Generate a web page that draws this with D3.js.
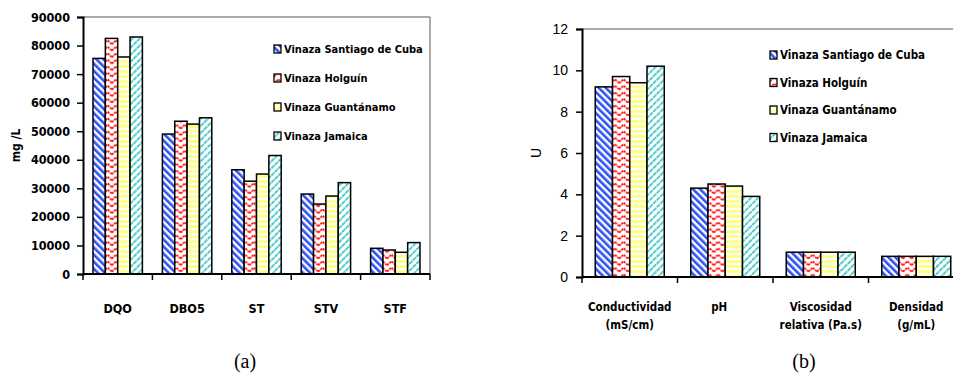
<!DOCTYPE html>
<html>
<head>
<meta charset="utf-8">
<script src="https://cdn.jsdelivr.net/npm/d3@7"></script>
<style>
  html, body { margin: 0; padding: 0; background: #fff; }
  svg { display: block; }
  .narrow { font-family: "Liberation Sans Narrow", "DejaVu Sans Condensed", "Liberation Sans", sans-serif; }
</style>
</head>
<body>
<svg id="chart" width="953" height="387"></svg>
<script>
// Vinaza samples (one series per origin)
const seriesNames = ["Vinaza Santiago de Cuba", "Vinaza Holguín", "Vinaza Guantánamo", "Vinaza Jamaica"];

// Panel (a): loads in mg/L
const catsA = ["DQO", "DBO5", "ST", "STV", "STF"];
const santiagoA   = [75500, 49000, 36500, 28000, 9000];
const holguinA    = [82500, 53500, 32500, 24500, 8400];
const guantanamoA = [76000, 52500, 35000, 27300, 7600];
const jamaicaA    = [83000, 54700, 41500, 32000, 11000];
const ticksA = [0, 10000, 20000, 30000, 40000, 50000, 60000, 70000, 80000, 90000];

// Panel (b): physical properties
const catsB = [["Conductividad", "(mS/cm)"], ["pH"], ["Viscosidad", "relativa (Pa.s)"], ["Densidad", "(g/mL)"]];
const santiagoB   = [9.2, 4.3, 1.2, 1.0];
const holguinB    = [9.7, 4.5, 1.2, 1.0];
const guantanamoB = [9.4, 4.4, 1.2, 1.0];
const jamaicaB    = [10.2, 3.9, 1.2, 1.0];
const ticksB = [0, 2, 4, 6, 8, 10, 12];

const svg = d3.select("#chart");
const defs = svg.append("defs");

// Fill patterns, one per series
function makePatterns() {
  // blue wide downward diagonal
  const p0 = defs.append("pattern").attr("id", "pat0")
    .attr("patternUnits", "userSpaceOnUse").attr("width", 5).attr("height", 5)
    .attr("patternTransform", "rotate(-45)");
  p0.append("rect").attr("width", 5).attr("height", 5).attr("fill", "#fff");
  p0.append("rect").attr("width", 2.6).attr("height", 5).attr("fill", "#2f52f2");

  // red zigzag
  const p1 = defs.append("pattern").attr("id", "pat1")
    .attr("patternUnits", "userSpaceOnUse").attr("width", 8.6).attr("height", 6.5);
  p1.append("rect").attr("width", 8.6).attr("height", 6.5).attr("fill", "#fff");
  p1.append("polyline").attr("points", "0,5.2 4.3,1.2 8.6,5.2")
    .attr("fill", "none").attr("stroke", "#ff0000").attr("stroke-width", 1.7)
    .attr("stroke-dasharray", "2.2 0.9");

  // yellow horizontal bands
  const p2 = defs.append("pattern").attr("id", "pat2")
    .attr("patternUnits", "userSpaceOnUse").attr("width", 6).attr("height", 5);
  p2.append("rect").attr("width", 6).attr("height", 5).attr("fill", "#fff");
  p2.append("rect").attr("width", 6).attr("height", 3).attr("fill", "#ffff8c");

  // cyan dashed upward diagonal
  const p3 = defs.append("pattern").attr("id", "pat3")
    .attr("patternUnits", "userSpaceOnUse").attr("width", 5).attr("height", 5)
    .attr("patternTransform", "rotate(45)");
  p3.append("rect").attr("width", 5).attr("height", 5).attr("fill", "#fff");
  p3.append("line").attr("x1", 1).attr("x2", 1).attr("y1", 0).attr("y2", 5)
    .attr("stroke", "#1fbfbf").attr("stroke-width", 1.7).attr("stroke-dasharray", "2 0.8");
}
makePatterns();

function drawPanel(cfg) {
  const g = svg.append("g");
  const { left, right, top, bottom } = cfg;

  const x = d3.scaleBand().domain(d3.range(cfg.cats.length)).range([left, right]).padding(0);
  const step = x.bandwidth();
  const xs = d3.scaleBand().domain(d3.range(cfg.series.length))
    .range([cfg.gap / 2, step - cfg.gap / 2]).padding(0);
  const y = d3.scaleLinear().domain(cfg.domain).range([bottom, top]);

  // gray frame on top and right
  g.append("line").attr("x1", left).attr("x2", right).attr("y1", top).attr("y2", top)
    .attr("stroke", "#8c8c8c").attr("stroke-width", 1.5);
  g.append("line").attr("x1", right).attr("x2", right).attr("y1", top).attr("y2", bottom)
    .attr("stroke", "#8c8c8c").attr("stroke-width", 1.5);

  // bars
  cfg.series.forEach((vals, si) => {
    g.append("g").selectAll("rect").data(vals).join("rect")
      .attr("x", (d, i) => x(i) + xs(si))
      .attr("y", d => y(d))
      .attr("width", xs.bandwidth())
      .attr("height", d => bottom - y(d))
      .attr("fill", `url(#pat${si})`)
      .attr("stroke", "#000").attr("stroke-width", 1.5);
  });

  // y axis
  const ya = g.append("g").attr("transform", `translate(${left},0)`)
    .call(d3.axisLeft(y).tickValues(cfg.ticks).tickSize(6).tickPadding(cfg.tickPad).tickFormat(d3.format("d")));
  ya.select(".domain").attr("stroke", "#000").attr("stroke-width", 2);
  ya.selectAll(".tick line").attr("stroke", "#000").attr("stroke-width", 1.5);
  ya.selectAll(".tick text").attr("fill", "#000")
    .attr("class", cfg.yNarrow ? "narrow" : null)
    .style("font-family", cfg.yNarrow ? null : "'Liberation Sans', Arial, sans-serif")
    .style("font-size", cfg.yFont + "px")
    .style("font-weight", cfg.yNarrow ? "bold" : "normal");

  // x axis line with boundary ticks
  g.append("line").attr("x1", left).attr("x2", right).attr("y1", bottom).attr("y2", bottom)
    .attr("stroke", "#000").attr("stroke-width", 2);
  g.append("g").selectAll("line").data(d3.range(cfg.cats.length + 1)).join("line")
    .attr("x1", i => left + i * step).attr("x2", i => left + i * step)
    .attr("y1", bottom).attr("y2", bottom + 6)
    .attr("stroke", "#000").attr("stroke-width", 1.5);

  // category labels
  cfg.cats.forEach((c, i) => {
    const lines = Array.isArray(c) ? c : [c];
    const cx = x(i) + step / 2 + (cfg.labelShift ? cfg.labelShift[i] : 0);
    const t = g.append("text").attr("class", "narrow")
      .attr("x", cx).attr("y", cfg.labelY)
      .attr("text-anchor", "middle")
      .style("font-size", cfg.xFont + "px").style("font-weight", "bold");
    lines.forEach((ln, k) => t.append("tspan")
      .attr("x", cx).attr("dy", k === 0 ? 0 : cfg.lineGap).text(ln));
  });

  // y title
  g.append("text")
    .attr("transform", `translate(${cfg.titleX},${(top + bottom) / 2}) rotate(-90)`)
    .attr("text-anchor", "middle")
    .attr("class", cfg.yNarrow ? "narrow" : null)
    .style("font-family", cfg.yNarrow ? null : "'Liberation Sans', Arial, sans-serif")
    .style("font-size", cfg.titleFont + "px").style("font-weight", cfg.yNarrow ? "bold" : "normal")
    .text(cfg.yTitle);

  // legend
  const lg = g.append("g").attr("transform", `translate(${cfg.legX},${cfg.legY})`);
  seriesNames.forEach((name, i) => {
    const row = lg.append("g").attr("transform", `translate(0,${i * cfg.legStep})`);
    row.append("rect").attr("x", 0).attr("y", -4).attr("width", 7).attr("height", 8)
      .attr("fill", `url(#pat${i})`).attr("stroke", "#000").attr("stroke-width", 1.3);
    row.append("text").attr("class", "narrow")
      .attr("x", 10).attr("y", 4)
      .style("font-size", cfg.legFont + "px").style("font-weight", "bold")
      .text(name);
  });

  // caption
  svg.append("text").attr("x", cfg.capX).attr("y", 368).attr("text-anchor", "middle")
    .style("font-family", "'Liberation Serif', 'Times New Roman', serif")
    .style("font-size", "20px").text(cfg.caption);
}

drawPanel({
  cats: catsA, series: [santiagoA, holguinA, guantanamoA, jamaicaA],
  left: 83, right: 430, top: 17, bottom: 274, gap: 20,
  domain: [0, 90000], ticks: ticksA, tickPad: 7, yFont: 12.5, yNarrow: true,
  xFont: 12.5, labelY: 313, lineGap: 18,
  titleX: 20, titleFont: 12, yTitle: "mg /L",
  legX: 274, legY: 49, legStep: 29, legFont: 11,
  capX: 245, caption: "(a)"
});

drawPanel({
  cats: catsB, series: [santiagoB, holguinB, guantanamoB, jamaicaB],
  left: 582, right: 964, top: 29, bottom: 277, gap: 26.5,
  domain: [0, 12], ticks: ticksB, tickPad: 8, yFont: 14, yNarrow: false,
  xFont: 11.5, labelY: 311, lineGap: 18, labelShift: [0, -6, 0, 0],
  titleX: 541, titleFont: 14, yTitle: "U",
  legX: 770, legY: 55, legStep: 27.5, legFont: 11.5,
  capX: 804, caption: "(b)"
});
</script>
</body>
</html>
